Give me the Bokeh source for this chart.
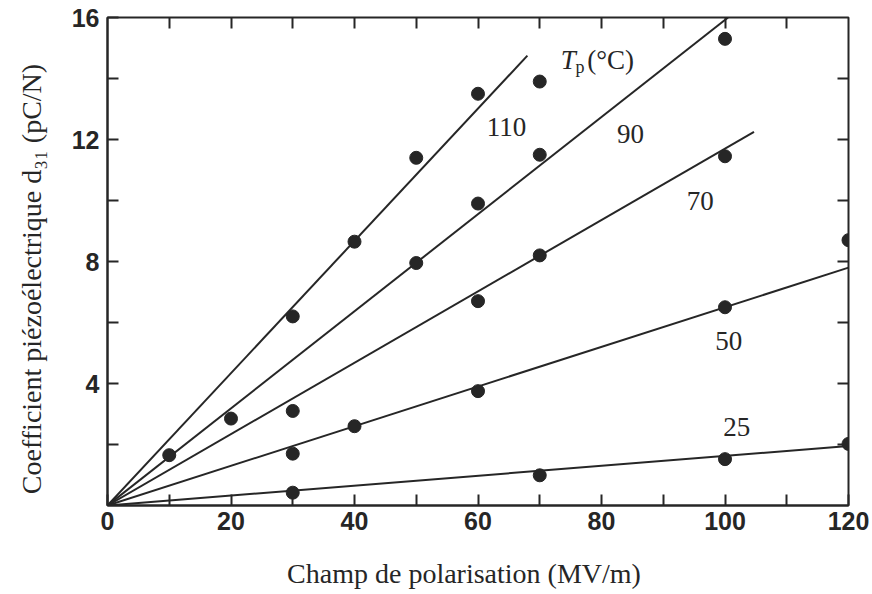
import math
from bokeh.plotting import figure
from bokeh.models import Range1d, LinearAxis, FixedTicker, Label, ColumnDataSource
from bokeh.core.properties import value
from bokeh.embed import file_html
from bokeh.resources import INLINE

# ---- data ----
x_major = [0, 20, 40, 60, 80, 100, 120]
x_minor = [10, 30, 50, 70, 90, 110]
x_top = [10, 20, 30, 40, 50, 60, 70, 80, 90, 100, 110]
y_major = [4, 8, 12, 16]
y_minor = [2, 6, 10, 14]
y_right = [2, 4, 6, 8, 10, 12, 14]

x_110 = [10, 30, 40, 50, 60, 70]
y_110 = [1.65, 6.2, 8.65, 11.4, 13.5, 13.9]
x_90 = [20, 50, 60, 70, 100]
y_90 = [2.85, 7.95, 9.9, 11.5, 15.3]
x_70 = [30, 60, 70, 100]
y_70 = [3.1, 6.7, 8.2, 11.45]
x_50 = [30, 40, 60, 100, 120]
y_50 = [1.7, 2.6, 3.75, 6.5, 8.7]
x_25 = [30, 70, 100, 120]
y_25 = [0.42, 0.99, 1.52, 2.02]

temps = ["110", "90", "70", "50", "25"]
line_x_end = [68.0, 100.5, 104.7, 120.0, 120.0]
line_y_end = [14.75, 16.0, 12.25, 7.8, 1.95]
label_x = [64.6, 84.7, 96.0, 100.6, 101.9]
label_y = [12.42, 12.19, 9.99, 5.39, 2.56]

x_title = "Champ de polarisation (MV/m)"
y_title = "Coefficient piézoélectrique d₃₁ (pC/N)"

ink = "#262626"
serif = "Liberation Serif"
sans = "Liberation Sans"
nb = "\u00a0"

p = figure(frame_width=741, frame_height=488,
           x_range=Range1d(0, 120), y_range=Range1d(0, 16),
           output_backend="svg", toolbar_location=None,
           min_border_left=107, min_border_right=24,
           min_border_top=17, min_border_bottom=89)
p.grid.visible = False
p.outline_line_color = ink
p.outline_line_width = 2
p.background_fill_color = "white"
p.border_fill_color = "white"

def style_axis(ax, major, minor, labels=True):
    ax.ticker = FixedTicker(ticks=major, minor_ticks=minor)
    ax.major_tick_in = 11
    ax.major_tick_out = 0
    ax.minor_tick_in = 11
    ax.minor_tick_out = 0
    ax.major_tick_line_width = 2
    ax.minor_tick_line_width = 2
    ax.major_tick_line_color = ink
    ax.minor_tick_line_color = ink
    ax.axis_line_width = 2
    ax.axis_line_color = ink
    if labels:
        ax.major_label_text_font = sans
        ax.major_label_text_font_style = "bold"
        ax.major_label_text_font_size = "25px"
        ax.major_label_text_color = ink
        ax.axis_label_text_font = serif
        ax.axis_label_text_font_style = "normal"
        ax.axis_label_text_font_size = "28px"
        ax.axis_label_text_color = ink
    else:
        ax.major_label_text_color = None
        ax.major_label_text_font_size = "1px"
        ax.major_label_standoff = 0

xa = p.xaxis[0]
style_axis(xa, x_major, x_minor)
xa.major_label_standoff = 6
xa.axis_label = x_title + nb * 4
xa.axis_label_standoff = 25

ya = p.yaxis[0]
style_axis(ya, y_major, y_minor)
ya.major_label_standoff = 8
ya.axis_label = y_title + nb * 5
ya.axis_label_standoff = 22

top = LinearAxis()
style_axis(top, x_top, [], labels=False)
top.axis_line_color = None
p.add_layout(top, "above")
right = LinearAxis()
style_axis(right, y_right, [], labels=False)
right.axis_line_color = None
p.add_layout(right, "right")

# fitted lines from origin
p.segment(x0=[0] * 5, y0=[0] * 5, x1=line_x_end, y1=line_y_end,
          line_width=2, line_color=ink)

for xs, ys in [(x_110, y_110), (x_90, y_90), (x_70, y_70), (x_50, y_50), (x_25, y_25)]:
    p.scatter(xs, ys, size=13, fill_color=ink, line_color=ink)

src = ColumnDataSource(dict(x=label_x, y=label_y, t=temps))
p.text(x="x", y="y", text="t", source=src, text_font=value(serif),
       text_font_size="27px", text_align="center", text_baseline="middle",
       text_color=ink)

# Tp(°C)
p.add_layout(Label(x=73.4, y=14.62, text="T", text_font=serif, text_font_style="italic",
                   text_font_size="27px", text_baseline="alphabetic", text_color=ink))
p.add_layout(Label(x=75.8, y=14.39, text="p", text_font=serif,
                   text_font_size="18px", text_baseline="alphabetic", text_color=ink))
p.add_layout(Label(x=77.7, y=14.62, text="(°C)", text_font=serif,
                   text_font_size="27px", text_baseline="alphabetic", text_color=ink))

open("out.html", "w").write(file_html(p, INLINE))
